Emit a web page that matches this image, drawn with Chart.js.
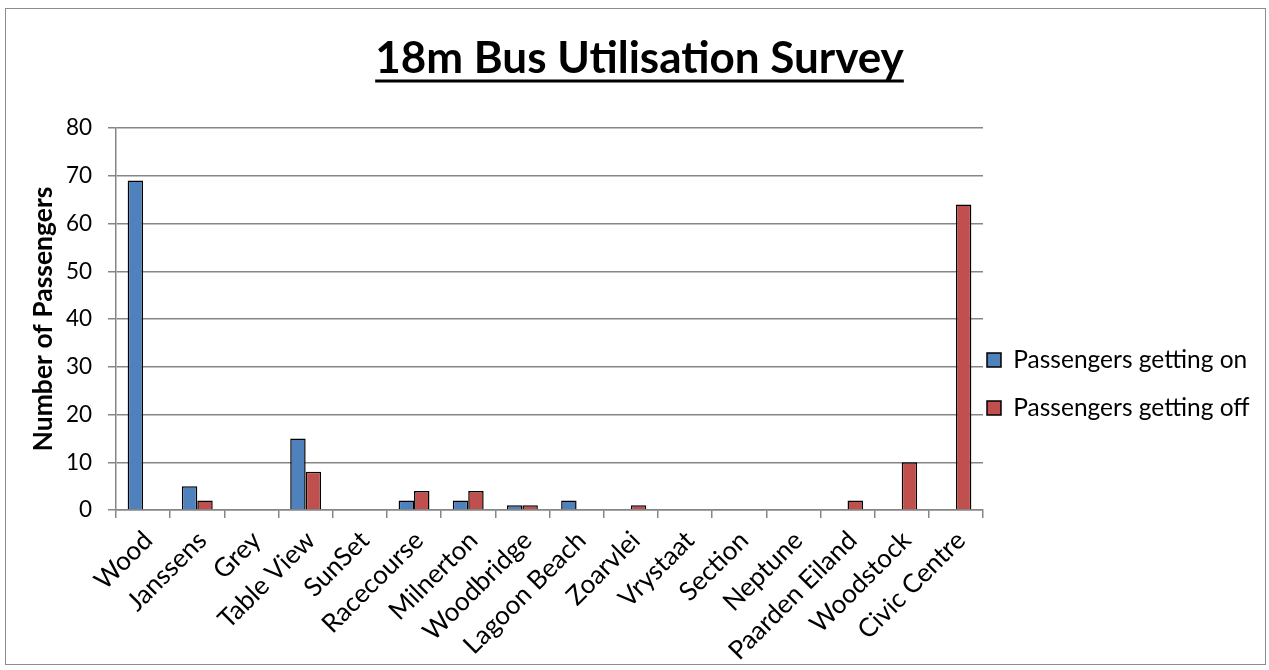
<!DOCTYPE html>
<html>
<head>
<meta charset="utf-8">
<script src="https://cdn.jsdelivr.net/npm/chart.js@4/dist/chart.umd.min.js"></script>
<style>
  html, body { margin: 0; padding: 0; background: #fff; }
  #wrap { position: relative; width: 1269px; height: 670px; }
  #frame { position: absolute; left: 5px; top: 8px; width: 1259px; height: 655px; border: 1px solid #8c8c8c; pointer-events: none; }
  canvas { position: absolute; left: 0; top: 0; }
</style>
</head>
<body>
<div id="wrap">
  <canvas id="c" width="1269" height="670"></canvas>
  <div id="frame"></div>
</div>
<script>
// Bus stops along the route
const stops = ["Wood", "Janssens", "Grey", "Table View", "SunSet", "Racecourse", "Milnerton",
  "Woodbridge", "Lagoon Beach", "Zoarvlei", "Vrystaat", "Section", "Neptune",
  "Paarden Eiland", "Woodstock", "Civic Centre"];

// Passenger counts per stop
const gettingOn  = [69, 5, 0, 15, 0, 2, 2, 1, 2, 0, 0, 0, 0, 0, 0, 0];
const gettingOff = [0, 2, 0, 8, 0, 4, 4, 1, 0, 1, 0, 0, 0, 2, 10, 64];

const FONT = "Lato, 'Open Sans', sans-serif";
const GRID = "#868686";
const LEGEND_PAD = 23.5;

// Underline beneath the chart title
const titleUnderline = {
  id: "titleUnderline",
  afterDraw(chart) {
    const tb = chart.titleBlock;
    if (!tb) return;
    const o = chart.options.plugins.title;
    const ctx = chart.ctx;
    ctx.save();
    ctx.font = `bold ${o.font.size}px ${FONT}`;
    const w = ctx.measureText(o.text).width;
    const cx = (tb.left + tb.right) / 2;
    const y = tb.top + o.padding.top + o.font.size * 1.2 / 2 + o.font.size * 0.5;
    ctx.strokeStyle = "#000";
    ctx.lineWidth = 3;
    ctx.beginPath();
    ctx.moveTo(cx - w / 2, y);
    ctx.lineTo(cx + w / 2, y);
    ctx.stroke();
    ctx.restore();
  }
};

// Legend: keep it narrow in the layout, then place it close to the plot,
// a little below the plot's middle
const legendPlace = {
  id: "legendPlace",
  afterLayout(chart) {
    const l = chart.legend;
    const left = chart.chartArea.right + 4 - LEGEND_PAD;
    l.left = left;
    l.right = chart.width;
    l.width = l.right - l.left;
    l.top += 44;
    l.bottom += 44;
  }
};

new Chart(document.getElementById("c"), {
  type: "bar",
  data: {
    labels: stops,
    datasets: [
      { label: "Passengers getting on", data: gettingOn, backgroundColor: "#4F81BD",
        borderColor: "#000", borderWidth: 1.5 },
      { label: "Passengers getting off", data: gettingOff, backgroundColor: "#C0504D",
        borderColor: "#000", borderWidth: 1.5 }
    ]
  },
  options: {
    responsive: false,
    animation: false,
    datasets: { bar: { categoryPercentage: 0.57, barPercentage: 1.0 } },
    layout: { padding: { left: 20, right: 10, top: 10, bottom: 0 } },
    plugins: {
      title: {
        display: true,
        text: "18m Bus Utilisation Survey",
        color: "#000",
        font: { family: FONT, size: 44, weight: "bold" },
        padding: { top: 22.6, bottom: 42.6 }
      },
      legend: {
        position: "right",
        maxWidth: 276,
        labels: {
          color: "#000",
          font: { family: FONT, size: 24.5 },
          boxWidth: 14,
          boxHeight: 14,
          padding: LEGEND_PAD
        }
      },
      tooltip: { enabled: false }
    },
    scales: {
      x: {
        afterFit(s) { s.height = 160; },
        grid: { offset: true, drawOnChartArea: false, color: GRID, tickLength: 8, lineWidth: 1.5 },
        border: { color: GRID, width: 1.5 },
        ticks: {
          color: "#000", font: { family: FONT, size: 26 },
          minRotation: 45, maxRotation: 45, autoSkip: false, padding: 7, labelOffset: 5
        }
      },
      y: {
        min: 0, max: 80,
        afterFit(s) { s.width = 96; },
        grid: { color: GRID, tickLength: 8, lineWidth: 1.5 },
        border: { color: GRID, width: 1.5 },
        ticks: { stepSize: 10, color: "#000", font: { family: FONT, size: 22.5 }, padding: 16 },
        title: {
          display: true, text: "Number of Passengers", color: "#000",
          font: { family: FONT, size: 26.5, weight: "bold" }, padding: { top: 8, bottom: 0 }
        }
      }
    }
  },
  plugins: [titleUnderline, legendPlace]
});
</script>
</body>
</html>
